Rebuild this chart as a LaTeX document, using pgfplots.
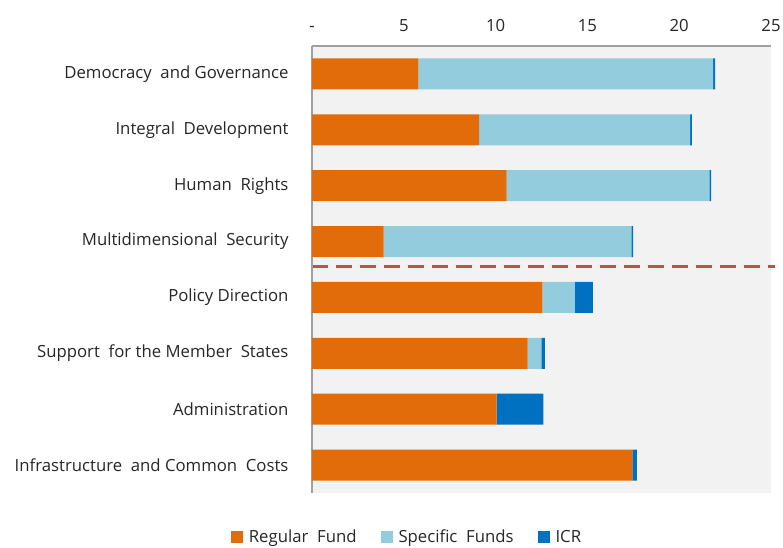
\documentclass[border=0pt]{standalone}
\usepackage{pgfplots}
\pgfplotsset{compat=1.18}
\usepackage{fontspec}
\setmainfont{Open Sans}
\definecolor{regc}{HTML}{E36C0A}
\definecolor{specc}{HTML}{93CDDD}
\definecolor{icrc}{HTML}{0070C0}
\definecolor{bgc}{HTML}{F2F2F2}
\definecolor{dashc}{HTML}{C0504D}
\definecolor{txtc}{HTML}{262626}
\definecolor{axc}{HTML}{A0A0A0}
\begin{document}
\begin{tikzpicture}
\path[use as bounding box] (-312bp,-55bp) rectangle (471bp,493bp);
\begin{axis}[
  at={(0,0)}, anchor=south west,
  scale only axis, width=459bp, height=447bp,
  xbar stacked, bar width=0.555,
  xmin=0, xmax=25, ymin=-0.5, ymax=7.5, y dir=reverse,
  xtick={0,5,10,15,20,25}, xticklabels={-,5,10,15,20,25},
  xticklabel pos=upper,
  ytick={0,...,7},
  yticklabels={Democracy\ \ and Governance, Integral\ \ Development, Human\ \ Rights, Multidimensional\ \ Security, Policy Direction, Support\ \ for the Member\ \ States, Administration, Infrastructure\ \ and Common\ \ Costs},
  major tick length=0,
  axis line style={draw=none},
  axis background/.style={fill=bgc},
  tick label style={font=\fontsize{16.8}{19}\selectfont, text=txtc},
  xticklabel style={yshift=11bp},
  yticklabel style={xshift=-20bp},
  clip=false,
  legend columns=3,
  legend style={at={(0.207,-0.098)}, anchor=center, draw=none, fill=none,
    font=\fontsize{16.8}{19}\selectfont, text=txtc,
    /tikz/every odd column/.append style={column sep=4bp},
    /tikz/every even column/.append style={column sep=22bp}},
  legend image code/.code={\fill[#1] (0bp,-6bp) rectangle (12bp,6bp);},
]
\addplot[fill=regc, draw=none] coordinates {(5.8,0) (9.1,1) (10.6,2) (3.9,3) (12.55,4) (11.75,5) (10.05,6) (17.45,7)};
\addplot[fill=specc, draw=none] coordinates {(16.05,0) (11.5,1) (11.05,2) (13.5,3) (1.75,4) (0.75,5) (0,6) (0,7)};
\addplot[fill=icrc, draw=none] coordinates {(0.1,0) (0.09,1) (0.09,2) (0.09,3) (1.0,4) (0.18,5) (2.55,6) (0.25,7)};
\legend{Regular\ \ Fund, Specific\ \ Funds, ICR}
\draw[axc, line width=1.5bp] (rel axis cs:0,1) -- (rel axis cs:0,0);
\draw[axc, line width=1.5bp] (rel axis cs:0,1) -- (rel axis cs:1,1);
\draw[dashc, line width=3bp, dash pattern=on 16bp off 8bp] (axis cs:0,3.44) -- (axis cs:25.2,3.44);
\end{axis}
\end{tikzpicture}
\end{document}
